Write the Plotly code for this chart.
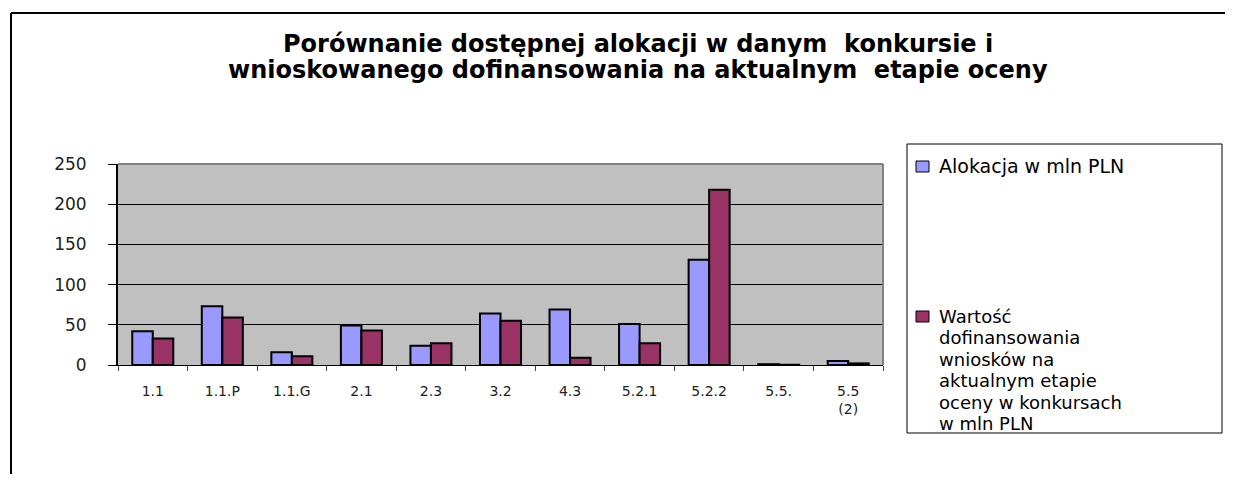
import plotly.graph_objects as go

categories = ["1.1", "1.1.P", "1.1.G", "2.1", "2.3", "3.2", "4.3", "5.2.1", "5.2.2", "5.5.", "5.5<br>(2)"]
alokacja = [42, 73, 16, 49, 24, 64, 69, 51, 131, 1, 5]
wartosc = [33, 59, 11, 43, 27, 55, 9, 27, 218, 0.3, 2]

name_a = "Alokacja w mln PLN"
name_b_lines = ["Wartość", "dofinansowania", "wniosków na", "aktualnym etapie",
                "oceny w konkursach", "w mln PLN"]
name_b = " ".join(name_b_lines)
title_lines = ["Porównanie dostępnej alokacji w danym  konkursie i",
               "wnioskowanego dofinansowania na aktualnym  etapie oceny"]

FONT = "DejaVu Sans, Verdana, sans-serif"

# reference-pixel geometry (page has 8px body margin)
OFF = 8
W, H = 1233 - OFF, 482 - 2 * OFF
L, R, T, B = 118, 883, 164, 365


def xp(X):
    return (X - L) / (R - L)


def yp(Y):
    return (B - Y) / (B - T)


fig = go.Figure()
fig.add_trace(go.Bar(x=categories, y=alokacja, name=name_a,
                     marker=dict(color="#9999FF", line=dict(color="black", width=2)),
                     showlegend=False))
fig.add_trace(go.Bar(x=categories, y=wartosc, name=name_b,
                     marker=dict(color="#993366", line=dict(color="black", width=2)),
                     showlegend=False))

fig.update_layout(
    width=W, height=H,
    margin=dict(l=L - OFF, r=1233 - R, t=T - OFF, b=H - (B - OFF), pad=0),
    paper_bgcolor="white",
    plot_bgcolor="#C0C0C0",
    barmode="group",
    bargap=0.41,
    bargroupgap=0,
    font=dict(family=FONT, color="black"),
)
fig.update_yaxes(range=[0, 250], tickvals=[0, 50, 100, 150, 200, 250],
                 showgrid=True, gridcolor="black", gridwidth=1,
                 showline=True, linecolor="black", linewidth=2,
                 ticks="outside", ticklen=8, tickcolor="black",
                 ticklabelstandoff=18,
                 tickfont=dict(size=17, color="#222222", family=FONT), zeroline=False)
fig.update_xaxes(showline=True, linecolor="black", linewidth=1,
                 ticks="outside", tickson="boundaries", ticklen=5, tickcolor="#444444",
                 ticklabelstandoff=13,
                 tickfont=dict(size=14, color="#222222", family=FONT), showgrid=False)

shapes = [
    dict(type="line", xref="paper", yref="paper", x0=0, x1=1, y0=1, y1=1,
         line=dict(color="#808080", width=2)),
    dict(type="line", xref="paper", yref="paper", x0=1, x1=1, y0=0, y1=1,
         line=dict(color="#808080", width=2)),
    dict(type="line", xref="paper", yref="paper",
         x0=xp(11), x1=xp(1240), y0=yp(13), y1=yp(13), line=dict(color="black", width=2)),
    dict(type="line", xref="paper", yref="paper",
         x0=xp(11), x1=xp(11), y0=yp(13), y1=yp(490), line=dict(color="black", width=2)),
    dict(type="rect", xref="paper", yref="paper",
         x0=xp(907), x1=xp(1222), y0=yp(144), y1=yp(433),
         line=dict(color="black", width=1), fillcolor="white"),
    dict(type="rect", xref="paper", yref="paper",
         x0=xp(916), x1=xp(929), y0=yp(161), y1=yp(172),
         line=dict(color="black", width=1), fillcolor="#9999FF"),
    dict(type="rect", xref="paper", yref="paper",
         x0=xp(916), x1=xp(929), y0=yp(311), y1=yp(322),
         line=dict(color="black", width=1), fillcolor="#993366"),
]
fig.update_layout(shapes=shapes)

annotations = []
for i, line in enumerate(title_lines):
    annotations.append(dict(text="<b>" + line + "</b>", xref="paper", yref="paper",
                            x=xp(638), y=yp(44 + 26 * i), xanchor="center", yanchor="middle",
                            showarrow=False,
                            font=dict(size=24, family=FONT, color="black")))
annotations.append(dict(text=name_a, xref="paper", yref="paper", x=xp(937), y=yp(166),
                        xanchor="left", yanchor="middle", showarrow=False,
                        font=dict(size=19, family=FONT, color="black")))
for i, line in enumerate(name_b_lines):
    annotations.append(dict(text=line, xref="paper", yref="paper", x=xp(937), y=yp(316 + 21.5 * i),
                            xanchor="left", yanchor="middle", showarrow=False,
                            font=dict(size=18, family=FONT, color="black")))
fig.update_layout(annotations=annotations)

fig.write_html("out.html")
